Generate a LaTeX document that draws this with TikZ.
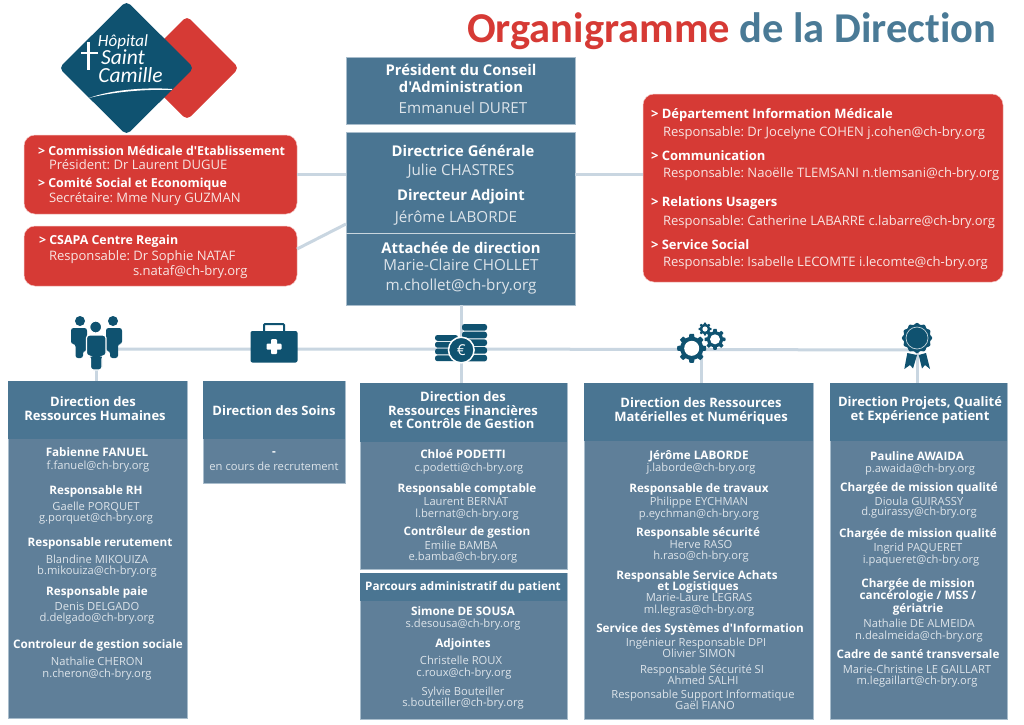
\documentclass[tikz,border=0pt]{standalone}
\usepackage{fontspec}
\newfontfamily\bodyfont{Open Sans}
\newfontfamily\titlefont[Ligatures=NoCommon]{Carlito}
\usetikzlibrary{calc}
\frenchspacing
\definecolor{hdcol}{HTML}{4A7592}
\definecolor{bodycol}{HTML}{5F7F99}
\definecolor{redcol}{HTML}{D63A35}
\definecolor{linecol}{HTML}{C9D6E1}
\definecolor{iconcol}{HTML}{0F5270}
\definecolor{titleblue}{HTML}{4A7A96}
\definecolor{edgecol}{HTML}{A9BDCC}
\definecolor{softtxt}{HTML}{DDE4EA}
\definecolor{softred}{HTML}{F8E4E2}
\newcounter{nn}
\tikzset{
  lbl/.style={inner sep=0pt,outer sep=0pt,anchor=base,text=white,font=\bodyfont\frenchspacing},
  lblw/.style={inner sep=0pt,outer sep=0pt,anchor=base west,text=white,font=\bodyfont\frenchspacing},
  bx/.style={inner sep=0pt,outer sep=0pt,anchor=north west,draw=edgecol,line width=.6pt},
  hdbox/.style={bx,fill=hdcol},
  bodybox/.style={bx,fill=bodycol},
  redbox/.style={inner sep=0pt,outer sep=0pt,anchor=north west,fill=redcol,draw=white!70!redcol,line width=.5pt,rounded corners=11pt},
  link/.style={draw=linecol,line width=3pt},
  iconfill/.style={fill=iconcol,draw=none}
}
% centred line of text: x, baseline y, text
\newcommand{\tA}[3]{\stepcounter{nn}\node[lbl] (t\arabic{nn}) at (#1,#2) {\fontsize{14.8}{16}\selectfont\bfseries #3};}
\newcommand{\tN}[3]{\stepcounter{nn}\node[lbl,text=softtxt] (t\arabic{nn}) at (#1,#2) {\fontsize{15.2}{16}\selectfont #3};}
\newcommand{\tH}[3]{\stepcounter{nn}\node[lbl] (t\arabic{nn}) at (#1,#2) {\fontsize{13}{14}\selectfont\bfseries #3};}
\newcommand{\tB}[3]{\stepcounter{nn}\node[lbl] (t\arabic{nn}) at (#1,#2) {\fontsize{11.7}{13}\selectfont\bfseries #3};}
\newcommand{\tR}[3]{\stepcounter{nn}\node[lbl,text=softtxt] (t\arabic{nn}) at (#1,#2) {\fontsize{11.2}{12}\selectfont #3};}
% left aligned red box lines
\newcommand{\rB}[3]{\stepcounter{nn}\node[lblw] (t\arabic{nn}) at (#1,#2) {\fontsize{13}{14}\selectfont\bfseries #3};}
\newcommand{\rC}[3]{\stepcounter{nn}\node[lblw] (t\arabic{nn}) at (#1,#2) {\fontsize{12.4}{14}\selectfont\bfseries #3};}
\newcommand{\rR}[3]{\stepcounter{nn}\node[lblw,text=softred] (t\arabic{nn}) at (#1,#2) {\fontsize{13.05}{14}\selectfont #3};}
% gear
\newcommand{\gearicon}[5]{% cx cy Rout Rroot teeth
  \fill[iconfill,shift={(#1,#2)}] plot[domain=0:360,samples=181,variable=\a]
    (\a:{min(#3,max(#4,(#3+#4)/2+1.6*(#3-#4)*cos(#5*\a)))}) -- cycle;}
\begin{document}
\begin{tikzpicture}[x=1pt,y=-1pt]
\useasboundingbox (0,0) rectangle (1024,724);
\fill[white] (0,0) rectangle (1024,724);

% ---- title
\node[inner sep=0pt,anchor=base west] (title) at (467,42) {\titlefont\fontsize{42.5}{48}\selectfont\bfseries\textcolor{redcol}{Organigramme} \textcolor{titleblue}{de la Direction}};

% ---- logo
\fill[redcol,rounded corners=5pt] (187,16) -- (239,68) -- (187,120) -- (135,68) -- cycle;
\fill[iconcol,rounded corners=5pt] (126.5,1) -- (194,68) -- (126.5,135) -- (59,68) -- cycle;
\node[inner sep=0pt,anchor=base,text=white] (logoA) at (123,46) {\titlefont\fontsize{17}{18}\selectfont\itshape Hôpital};
\node[inner sep=0pt,anchor=base,text=white] (logoB) at (123,64.5) {\titlefont\fontsize{21.5}{24}\selectfont\itshape Saint};
\node[inner sep=0pt,anchor=base,text=white] (logoC) at (130.5,82.5) {\titlefont\fontsize{21.5}{24}\selectfont\itshape Camille};
\fill[white] (86.8,42) rectangle (89.6,70);
\fill[white] (81,51.5) rectangle (98,54);
\fill[white] (89,98) .. controls (110,90) and (145,87) .. (172,89) -- (172,90) .. controls (145,89) and (112,92) .. (89,98) -- cycle;

% ---- boxes
\node[hdbox,minimum width=229pt,minimum height=67pt] (pres) at (346,57) {};
\node[hdbox,minimum width=229pt,minimum height=173pt] (dg) at (346,132) {};
\draw[white!70!hdcol,line width=.7pt] (dg.west |- 0,233) -- (dg.east |- 0,233);
\node[redbox,minimum width=273pt,minimum height=79pt] (cse) at (24,135) {};
\node[redbox,minimum width=273pt,minimum height=60pt] (csapa) at (24,226) {};
\node[redbox,minimum width=360pt,minimum height=188pt] (dmi) at (643,94) {};

\coordinate (hubL) at (96,349);
\coordinate (hubR) at (917,350);
\coordinate (diagA) at (297,249);
\coordinate (diagB) at (346,224);

\node[bodybox,minimum width=179pt,minimum height=337pt] (rh) at (8,381) {};
\node[bodybox,minimum width=142pt,minimum height=102pt] (soins) at (203,381) {};
\node[bodybox,minimum width=207pt,minimum height=186pt] (fin) at (360,383) {};
\node[bodybox,minimum width=207pt,minimum height=146pt] (parc) at (360,573) {};
\node[bodybox,minimum width=229pt,minimum height=336pt] (mat) at (584,383) {};
\node[bodybox,minimum width=177pt,minimum height=336pt] (qual) at (830,383) {};
\fill[hdcol] (rh.north west) rectangle (187,439);
\fill[hdcol] (soins.north west) rectangle (345,439);
\fill[hdcol] (fin.north west) rectangle (567,442);
\fill[hdcol] (parc.north west) rectangle (567,601);
\fill[hdcol] (mat.north west) rectangle (813,441);
\fill[hdcol] (qual.north west) rectangle (1007,441);

% ---- connectors
\draw[link] (cse.east) -- (cse.east -| dg.west);
\draw[link] (dg.east |- cse.east) -- (dmi.west |- cse.east);
\draw[link] (diagA) -- (diagB);
\draw[link] (dg.south -| 461,0) -- (fin.north -| 461,0);
\draw[link] (hubL) -- (461,349) -- (hubR);
\draw[link] (hubL) -- (rh.north -| hubL);
\draw[link] (701,350) -- (mat.north -| 701,0);
\draw[link] (hubR) -- (qual.north -| hubR);

% ---- people icon
\begin{scope}
\fill[iconcol] (80,321) circle (5);
\fill[iconcol] (113,321) circle (5);
\fill[iconcol,rounded corners=2.5pt] (71,328) -- (87,328) -- (87,351) -- (83,351) -- (83,358) -- (75.5,358) -- (75.5,344) -- (71,344) -- cycle;
\fill[iconcol,rounded corners=2.5pt] (106,328) -- (122,328) -- (122,344) -- (118,344) -- (118,358) -- (110,358) -- (110,351) -- (106,351) -- cycle;
\fill[iconcol,draw=white,line width=1.2pt] (95.7,327) circle (6);
\fill[iconcol,draw=white,line width=1.2pt,rounded corners=3pt] (86.5,335) -- (106,335) -- (106,356) -- (102,356) -- (102,370) -- (90.5,370) -- (90.5,356) -- (86.5,356) -- cycle;
\end{scope}

% ---- medical kit icon
\draw[iconcol,line width=2pt,rounded corners=1pt] (264,332) -- (264,324) -- (284,324) -- (284,332);
\fill[iconcol,rounded corners=2pt] (250.5,331) rectangle (297.5,362.5);
\fill[white,rounded corners=1pt] (271,339) rectangle (277,354);
\fill[white,rounded corners=1pt] (266.5,343.5) rectangle (281.5,349.5);

% ---- coins icon
\foreach \yy in {324,331.7,339.4,347.1,354.8}{
  \fill[iconcol,rounded corners=2.5pt] (462,\yy) rectangle (487,\yy+6.6);
}
\foreach \yy in {335,341.8,348.6,355.4}{
  \fill[iconcol,rounded corners=2.5pt] (435,\yy) rectangle (458,\yy+5.8);
}
\fill[iconcol,draw=white,line width=1.5pt] (461.3,350) circle (12.8);
\node[inner sep=0pt,text=white,font=\bodyfont] (euro) at (461.3,350) {\fontsize{15}{16}\selectfont €};

% ---- gears icon
\gearicon{691.7}{348.3}{14.5}{11.5}{8}
\fill[white] (691.7,348.3) circle (7.5);
\gearicon{715}{339.3}{10.5}{8}{8}
\fill[white] (715,339.3) circle (5);
\gearicon{705}{329}{6.5}{5}{8}
\fill[white] (705,329) circle (2.6);

% ---- rosette icon
\fill[iconcol] (907.3,353) -- (904.3,369) -- (910,365) -- (913,368.5) -- (917,355) -- cycle;
\fill[iconcol] (918.7,355) -- (922,368.5) -- (925,365) -- (930,369) -- (926,353) -- cycle;
\fill[iconcol,shift={(917,338)}] plot[domain=0:360,samples=145,variable=\a] (\a:{14.3+.8*cos(12*\a)}) -- cycle;
\draw[white!75!iconcol,line width=.7pt] (917,338) circle (11);

% ---- president / DG text
\tA{461}{75.5}{Président du Conseil}
\tA{461}{92}{d'Administration}
\tN{463}{113}{Emmanuel DURET}
\tA{463}{156}{Directrice Générale}
\tN{461}{175}{Julie CHASTRES}
\tA{461}{200.5}{Directeur Adjoint}
\tN{456}{222}{Jérôme LABORDE}
\tA{461}{253}{Attachée de direction}
\tN{461}{270.5}{Marie-Claire CHOLLET}
\tN{461}{290}{m.chollet@ch-bry.org}

% ---- red boxes text
\rC{38}{155}{> Commission Médicale d'Etablissement}
\rR{49}{169}{Président: Dr Laurent DUGUE}
\rC{38}{187}{> Comité Social et Economique}
\rR{49}{202}{Secrétaire: Mme Nury GUZMAN}
\rC{39}{244}{> CSAPA Centre Regain}
\rR{49}{260}{Responsable: Dr Sophie NATAF}
\rR{133}{275}{s.nataf@ch-bry.org}
\rB{651}{118}{> Département Information Médicale}
\rR{663}{136}{Responsable: Dr Jocelyne COHEN j.cohen@ch-bry.org}
\rB{651}{160}{> Communication}
\rR{663}{177}{Responsable: Naoëlle TLEMSANI n.tlemsani@ch-bry.org}
\rB{651}{206}{> Relations Usagers}
\rR{663}{225}{Responsable: Catherine LABARRE c.labarre@ch-bry.org}
\rB{651}{249}{> Service Social}
\rR{663}{266}{Responsable: Isabelle LECOMTE i.lecomte@ch-bry.org}

% ---- RH
\tH{93}{406}{Direction des}
\tH{95}{420}{Ressources Humaines}
\tB{97}{456}{Fabienne FANUEL}
\tR{98}{469}{f.fanuel@ch-bry.org}
\tB{96}{494}{Responsable RH}
\tR{96}{510}{Gaelle PORQUET}
\tR{96}{521.5}{g.porquet@ch-bry.org}
\tB{100}{546}{Responsable rerutement}
\tR{97}{563}{Blandine MIKOUIZA}
\tR{97}{574}{b.mikouiza@ch-bry.org}
\tB{97}{595}{Responsable paie}
\tR{97}{610}{Denis DELGADO}
\tR{97}{621}{d.delgado@ch-bry.org}
\tB{98}{648}{Controleur de gestion sociale}
\tR{97}{665}{Nathalie CHERON}
\tR{97}{677}{n.cheron@ch-bry.org}

% ---- Soins
\tH{274}{415}{Direction des Soins}
\tB{274}{455.5}{-}
\tR{274}{470}{en cours de recrutement}

% ---- Finances
\tH{463}{401}{Direction des}
\tH{463}{415}{Ressources Financières}
\tH{462}{428}{et Contrôle de Gestion}
\tB{463}{458}{Chloé PODETTI}
\tR{469}{471}{c.podetti@ch-bry.org}
\tB{467}{492}{Responsable comptable}
\tR{466}{505}{Laurent BERNAT}
\tR{467}{517}{l.bernat@ch-bry.org}
\tB{467}{535}{Contrôleur de gestion}
\tR{461}{549}{Emilie BAMBA}
\tR{463}{560}{e.bamba@ch-bry.org}
\tB{463}{590}{Parcours administratif du patient}
\tB{463}{615}{Simone DE SOUSA}
\tR{463}{627}{s.desousa@ch-bry.org}
\tB{463}{647}{Adjointes}
\tR{461}{664}{Christelle ROUX}
\tR{464}{676}{c.roux@ch-bry.org}
\tR{463}{695}{Sylvie Bouteiller}
\tR{463}{706}{s.bouteiller@ch-bry.org}

% ---- Materielles
\tH{701}{407}{Direction des Ressources}
\tH{701}{421}{Matérielles et Numériques}
\tB{699}{459}{Jérôme LABORDE}
\tR{701}{471}{j.laborde@ch-bry.org}
\tB{699}{492}{Responsable de travaux}
\tR{699}{505}{Philippe EYCHMAN}
\tR{699}{517}{p.eychman@ch-bry.org}
\tB{698}{536}{Responsable sécurité}
\tR{701}{548}{Herve RASO}
\tR{701}{559}{h.raso@ch-bry.org}
\tB{697}{579}{Responsable Service Achats}
\tB{698}{590}{et Logistiques}
\tR{699}{601}{Marie-Laure LEGRAS}
\tR{699}{613}{ml.legras@ch-bry.org}
\tB{700}{632}{Service des Systèmes d'Information}
\tR{696}{646}{Ingénieur Responsable DPI}
\tR{699}{657}{Olivier SIMON}
\tR{702}{673}{Responsable Sécurité SI}
\tR{703}{684}{Ahmed SALHI}
\tR{703}{698}{Responsable Support Informatique}
\tR{705}{709}{Gaël FIANO}

% ---- Qualite
\tH{920}{406}{Direction Projets, Qualité}
\tH{920}{420}{et Expérience patient}
\tB{917}{460}{Pauline AWAIDA}
\tR{920}{472}{p.awaida@ch-bry.org}
\tB{919}{491}{Chargée de mission qualité}
\tR{919}{505}{Dioula GUIRASSY}
\tR{919}{515}{d.guirassy@ch-bry.org}
\tB{918}{537}{Chargée de mission qualité}
\tR{918}{551}{Ingrid PAQUERET}
\tR{921}{563}{i.paqueret@ch-bry.org}
\tB{918}{587}{Chargée de mission}
\tB{918}{599}{cancérologie / MSS /}
\tB{918}{612}{gériatrie}
\tR{919}{627}{Nathalie DE ALMEIDA}
\tR{919}{639}{n.dealmeida@ch-bry.org}
\tB{918}{658}{Cadre de santé transversale}
\tR{917}{673}{Marie-Christine LE GAILLART}
\tR{917}{684}{m.legaillart@ch-bry.org}
\end{tikzpicture}
\end{document}
